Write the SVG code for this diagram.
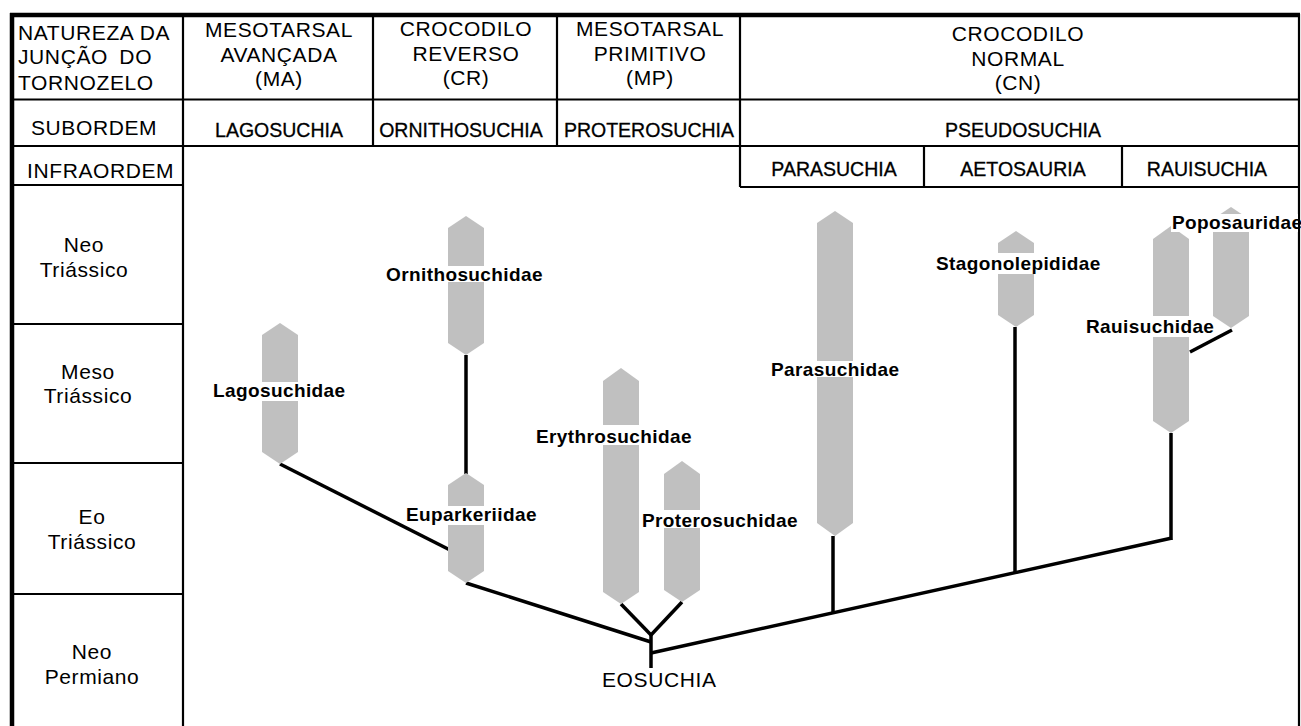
<svg xmlns="http://www.w3.org/2000/svg" width="1301" height="726" viewBox="0 0 1301 726">
<style>
.hd{font-family:"Liberation Sans",Arial,sans-serif;font-size:21px;letter-spacing:0.6px;fill:#000}
.mid{text-anchor:middle}
.sb{font-family:"Liberation Sans",Arial,sans-serif;font-size:19.5px;fill:#000;text-anchor:middle;stroke:#000;stroke-width:0.3}
.lb{font-family:"Liberation Sans",Arial,sans-serif;font-size:19px;font-weight:bold;letter-spacing:0.4px;fill:#000}
.bar{fill:#c0c0c0}
.bg{fill:#fff}
.grid{stroke:#000;stroke-width:2.2;fill:none}
.frame{stroke:#000;stroke-width:4.5;fill:none}
.con{stroke:#000;stroke-width:3.5;fill:none;stroke-linecap:butt}
</style>
<rect width="1301" height="726" fill="#fff"/>
<g id="table">
<line class="grid" x1="1299" y1="14" x2="1299" y2="726"/>
<line class="grid" x1="183" y1="14" x2="183" y2="726"/>
<line class="grid" x1="373" y1="14" x2="373" y2="146"/>
<line class="grid" x1="557" y1="14" x2="557" y2="146"/>
<line class="grid" x1="740" y1="14" x2="740" y2="187"/>
<line class="grid" x1="924" y1="146" x2="924" y2="187"/>
<line class="grid" x1="1122" y1="146" x2="1122" y2="187"/>
<line class="grid" x1="12" y1="99.5" x2="1299" y2="99.5"/>
<line class="grid" x1="12" y1="146" x2="1299" y2="146"/>
<line class="grid" x1="740" y1="187" x2="1299" y2="187"/>
<line class="grid" x1="12" y1="185" x2="183" y2="185"/>
<line class="grid" x1="12" y1="324" x2="183" y2="324"/>
<line class="grid" x1="12" y1="463" x2="183" y2="463"/>
<line class="grid" x1="12" y1="594" x2="183" y2="594"/>
<line class="frame" x1="10" y1="15" x2="1300" y2="15"/>
<line class="frame" x1="12" y1="13" x2="12" y2="726"/>
<text class="hd" x="18" y="40">NATUREZA DA</text>
<text class="hd" x="18" y="64" word-spacing="5">JUNÇÃO DO</text>
<text class="hd" x="18" y="90">TORNOZELO</text>
<text class="hd mid" x="279" y="37">MESOTARSAL</text>
<text class="hd mid" x="279" y="62">AVANÇADA</text>
<text class="hd mid" x="279" y="86">(MA)</text>
<text class="hd mid" x="466" y="36">CROCODILO</text>
<text class="hd mid" x="466" y="61">REVERSO</text>
<text class="hd mid" x="466" y="85">(CR)</text>
<text class="hd mid" x="650" y="36">MESOTARSAL</text>
<text class="hd mid" x="650" y="61">PRIMITIVO</text>
<text class="hd mid" x="650" y="85">(MP)</text>
<text class="hd mid" x="1018" y="41">CROCODILO</text>
<text class="hd mid" x="1018" y="66">NORMAL</text>
<text class="hd mid" x="1018" y="90">(CN)</text>
<text class="hd" x="31" y="135">SUBORDEM</text>
<text class="hd" x="27" y="178">INFRAORDEM</text>
<text class="sb" x="279" y="137">LAGOSUCHIA</text>
<text class="sb" x="461" y="137">ORNITHOSUCHIA</text>
<text class="sb" x="649" y="137">PROTEROSUCHIA</text>
<text class="sb" x="1023" y="137">PSEUDOSUCHIA</text>
<text class="sb" x="834" y="176">PARASUCHIA</text>
<text class="sb" x="1023" y="176">AETOSAURIA</text>
<text class="sb" x="1207" y="176">RAUISUCHIA</text>
<text class="hd mid" x="84" y="252">Neo</text>
<text class="hd mid" x="84" y="277">Triássico</text>
<text class="hd mid" x="88" y="379">Meso</text>
<text class="hd mid" x="88" y="403">Triássico</text>
<text class="hd mid" x="92" y="524">Eo</text>
<text class="hd mid" x="92" y="549">Triássico</text>
<text class="hd mid" x="92" y="659">Neo</text>
<text class="hd mid" x="92" y="684">Permiano</text>
</g>
<g id="connectors">
<line class="con" x1="466" y1="355" x2="466" y2="474"/>
<line class="con" x1="280" y1="464" x2="450" y2="550"/>
<line class="con" x1="466" y1="583" x2="651" y2="642"/>
<line class="con" x1="621" y1="604" x2="651" y2="635"/>
<line class="con" x1="682" y1="602" x2="651" y2="635"/>
<line class="con" x1="651" y1="633" x2="651" y2="668"/>
<line class="con" x1="651" y1="653" x2="1172" y2="538"/>
<line class="con" x1="833" y1="536" x2="833" y2="614"/>
<line class="con" x1="1015" y1="327" x2="1015" y2="574"/>
<line class="con" x1="1171" y1="433" x2="1171" y2="540"/>
<line class="con" x1="1232" y1="330" x2="1190" y2="352"/>
</g>
<g id="lagosuchidae">
<polygon class="bar" points="280,323 298,335 298,452 280,464 262,452 262,335"/>
<rect class="bg" x="212" y="382" width="134" height="19"/>
<text class="lb" x="213" y="397">Lagosuchidae</text>
</g>
<g id="ornithosuchidae">
<polygon class="bar" points="466,216 484,228 484,343 466,355 448,343 448,228"/>
<rect class="bg" x="385" y="266" width="160" height="16"/>
<text class="lb" x="386" y="281">Ornithosuchidae</text>
</g>
<g id="euparkeriidae">
<polygon class="bar" points="466,473 484,485 484,571 466,583 448,571 448,485"/>
<rect class="bg" x="405" y="506" width="133" height="19"/>
<text class="lb" x="406" y="521">Euparkeriidae</text>
</g>
<g id="erythrosuchidae">
<polygon class="bar" points="621,368 639,381 639,592 621,604 603,592 603,381"/>
<rect class="bg" x="535" y="425" width="157" height="20"/>
<text class="lb" x="536" y="443">Erythrosuchidae</text>
</g>
<g id="proterosuchidae">
<polygon class="bar" points="682,461 700,474 700,590 682,602 664,590 664,474"/>
<rect class="bg" x="641" y="510" width="160" height="18"/>
<text class="lb" x="642" y="527">Proterosuchidae</text>
</g>
<g id="parasuchidae">
<polygon class="bar" points="835,211 853,223 853,523 835,536 817,523 817,223"/>
<rect class="bg" x="770" y="361" width="130" height="16"/>
<text class="lb" x="771" y="376">Parasuchidae</text>
</g>
<g id="stagonolepididae">
<polygon class="bar" points="1016,231 1034,243 1034,315 1016,327 998,315 998,243"/>
<rect class="bg" x="935" y="253" width="168" height="21"/>
<text class="lb" x="936" y="270">Stagonolepididae</text>
</g>
<g id="rauisuchidae">
<polygon class="bar" points="1171,226 1189,239 1189,421 1171,433 1153,421 1153,239"/>
<rect class="bg" x="1085" y="316" width="128" height="21"/>
<text class="lb" x="1086" y="333">Rauisuchidae</text>
</g>
<g id="poposauridae">
<polygon class="bar" points="1231,207 1249,219 1249,316 1231,328 1213,316 1213,219"/>
<rect class="bg" x="1171" y="214" width="127" height="18"/>
<text class="lb" x="1172" y="229">Poposauridae</text>
</g>
<g id="eosuchia">
<text class="hd" x="602" y="687">EOSUCHIA</text>
</g>
</svg>
